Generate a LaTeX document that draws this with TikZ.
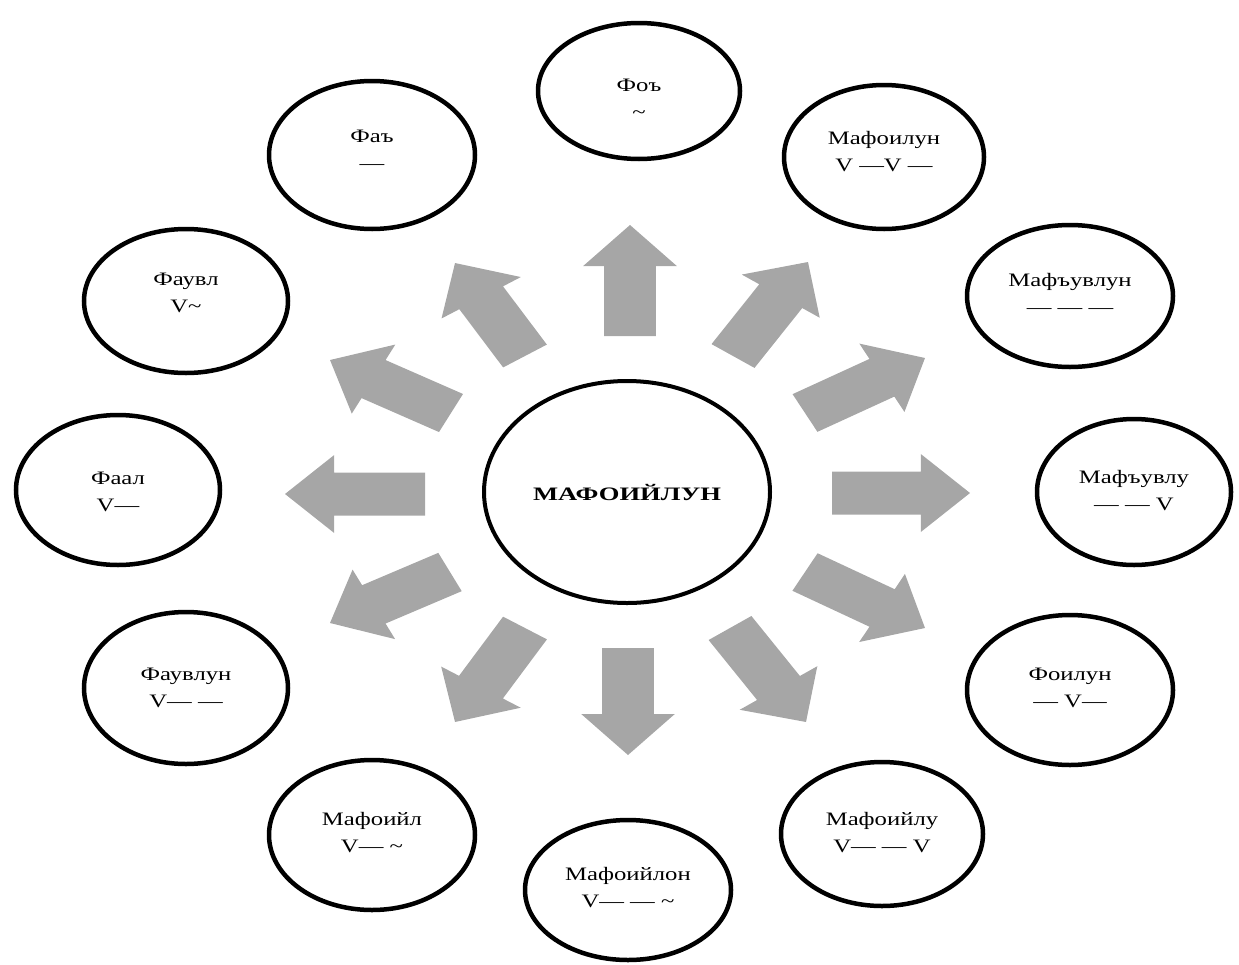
\documentclass[tikz,border=0pt]{standalone}
\usepackage{fontspec}
\setmainfont{Liberation Serif}
\usetikzlibrary{calc,shapes.geometric}
\definecolor{arrowgray}{HTML}{A6A6A6}
\tikzset{
  metre/.style={ellipse, draw=black, line width=4.5pt, fill=white, inner sep=0pt,
    font=\fontsize{19pt}{27pt}\selectfont, align=center},
  hub/.style={ellipse, draw=black, line width=4pt, fill=white, inner sep=0pt,
    font=\bfseries\fontsize{19pt}{23pt}\selectfont},
  tag/.style={font=\fontsize{19pt}{27pt}\selectfont, align=center},
}
% block arrow from a base point to a tip, drawn in a frame stretched by 1.2 horizontally
\newcommand\blockarrow[2]{%
  \path[fill=arrowgray] let \p1=(#1), \p2=(#2),
    \n1={atan2(\y2-\y1,(\x2-\x1)/1.2)}, \n2={veclen((\x2-\x1)/1.2,\y2-\y1)} in
    [shift={(\p1)}, xscale=1.2, rotate=\n1]
    (0pt,-21.5pt) -- (\n2-41pt,-21.5pt) -- (\n2-41pt,-39pt) -- (\n2,0pt)
    -- (\n2-41pt,39pt) -- (\n2-41pt,21.5pt) -- (0pt,21.5pt) -- cycle;}
\newcommand\metrelabel[2]{\scalebox{1.3}[1]{#1}\\\scalebox{1.3}[1]{#2}}
\begin{document}
\begin{tikzpicture}[x=1pt, y=-1pt]
\useasboundingbox (0,0) rectangle (1239,964);

% metre ellipses around the hub
\node[metre, minimum width=202pt, minimum height=136pt] (foo) at (639,91) {};
\node[metre, minimum width=206pt, minimum height=148pt] (fa) at (372,155) {};
\node[metre, minimum width=200pt, minimum height=144pt] (mfl) at (884,157) {};
\node[metre, minimum width=204pt, minimum height=144pt] (fvl) at (186,301) {};
\node[metre, minimum width=206pt, minimum height=142pt] (mfvln) at (1070,296) {};
\node[metre, minimum width=204pt, minimum height=150pt] (fal) at (118,490) {};
\node[metre, minimum width=194pt, minimum height=146pt] (mfvl) at (1134,492) {};
\node[metre, minimum width=204pt, minimum height=152pt] (fvln) at (186,688) {};
\node[metre, minimum width=206pt, minimum height=150pt] (fln) at (1070,690) {};
\node[metre, minimum width=206pt, minimum height=150pt] (mfyl) at (372,835) {};
\node[metre, minimum width=202pt, minimum height=144pt] (mfylu) at (882,834) {};
\node[metre, minimum width=206pt, minimum height=140pt] (mfylon) at (628,890) {};
\node[hub, minimum width=286pt, minimum height=222pt] (hubl) at (627,492)
  {\scalebox{1.4}[1]{МАФОИЙЛУН}};

% names and schemes of the metres
\node[tag] (fooT)    at ([yshift=-8pt]foo)   {\metrelabel{Фоъ}{\textasciitilde}};
\node[tag] (faT)     at ([yshift=5pt]fa)     {\metrelabel{Фаъ}{—}};
\node[tag] (mflT)    at ([yshift=5pt]mfl)    {\metrelabel{Мафоилун}{V —V —}};
\node[tag] (fvlT)    at ([yshift=8pt]fvl)    {\metrelabel{Фаувл}{V\textasciitilde}};
\node[tag] (mfvlnT)  at ([yshift=3pt]mfvln)  {\metrelabel{Мафъувлун}{— — —}};
\node[tag] (falT)    at ([yshift=-2pt]fal)   {\metrelabel{Фаал}{V—}};
\node[tag] (mfvlT)   at ([yshift=1pt]mfvl)   {\metrelabel{Мафъувлу}{— — V}};
\node[tag] (fvlnT)   at (fvln)               {\metrelabel{Фаувлун}{V— —}};
\node[tag] (flnT)    at ([yshift=2pt]fln)    {\metrelabel{Фоилун}{— V—}};
\node[tag] (mfylT)   at ([yshift=2pt]mfyl)   {\metrelabel{Мафоийл}{V— \textasciitilde}};
\node[tag] (mfyluT)  at ([yshift=1pt]mfylu)  {\metrelabel{Мафоийлу}{V— — V}};
\node[tag] (mfylonT) at ([yshift=2pt]mfylon) {\metrelabel{Мафоийлон}{V— — \textasciitilde}};

% arrow anchors: base and tip
\coordinate (bU) at (630,336);  \coordinate (tU) at (630,225);
\coordinate (bD) at (628,648);  \coordinate (tD) at (628,755);
\coordinate (bR) at (832,493);  \coordinate (tR) at (970,493);
\coordinate (bL) at (425,494);  \coordinate (tL) at (285,494);
\coordinate (bUL) at (525,356); \coordinate (tUL) at (455,263);
\coordinate (bUR) at (733,356); \coordinate (tUR) at (808,262);
\coordinate (bLU) at (451,413); \coordinate (tLU) at (330,360);
\coordinate (bRU) at (805,413); \coordinate (tRU) at (925,358);
\coordinate (bLD) at (450,572); \coordinate (tLD) at (330,623);
\coordinate (bRD) at (805,572); \coordinate (tRD) at (925,628);
\coordinate (bDL) at (525,628); \coordinate (tDL) at (455,722);
\coordinate (bDR) at (730,628); \coordinate (tDR) at (806,722);

\foreach \a in {U,D,R,L,UL,UR,LU,RU,LD,RD,DL,DR}
  {\blockarrow{b\a}{t\a}}
\end{tikzpicture}
\end{document}
